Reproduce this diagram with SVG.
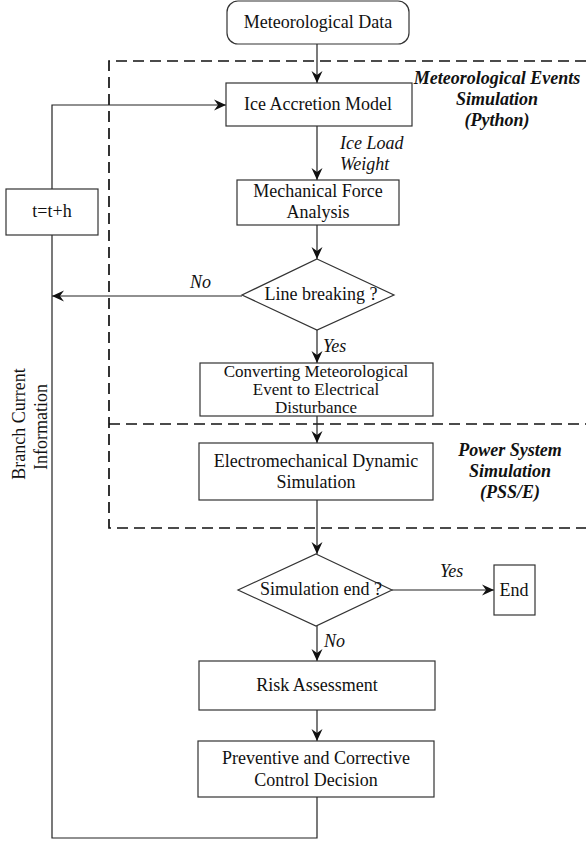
<svg xmlns="http://www.w3.org/2000/svg" width="586" height="841" viewBox="0 0 586 841" font-family="Liberation Serif, Times New Roman, DejaVu Serif, serif">
<style>
text{font-size:18px;fill:#111;}
.c{text-anchor:middle;}
.i{font-style:italic;}
.bi{font-style:italic;font-weight:bold;text-anchor:middle;}
.sm{font-size:17px;}
.box{fill:#fff;stroke:#333;stroke-width:1.2;}
.ln{fill:none;stroke:#222;stroke-width:1.2;}
.dash{fill:none;stroke:#111;stroke-width:1.7;stroke-dasharray:11 6;}
</style>
<defs>
<marker id="ah" markerWidth="14" markerHeight="12" viewBox="-13 -6 14 12" refX="0" refY="0" orient="auto" markerUnits="userSpaceOnUse">
<path d="M-12,-5.5 L0,0 L-12,5.5 L-8,0 Z" fill="#111"/>
</marker>
</defs>
<g id="regions">
<path class="dash" d="M586,61 H109 V528 H586"/>
<path class="dash" d="M109,424 H586"/>
<text class="bi" x="497" y="84">Meteorological Events</text>
<text class="bi" x="497" y="105">Simulation</text>
<text class="bi" x="497" y="126">(Python)</text>
<text class="bi" x="510" y="456">Power System</text>
<text class="bi" x="510" y="477">Simulation</text>
<text class="bi" x="510" y="498">(PSS/E)</text>
</g>
<g id="connectors">
<line class="ln" x1="317" y1="44" x2="317" y2="83" marker-end="url(#ah)"/>
<line class="ln" x1="317" y1="126" x2="317" y2="180" marker-end="url(#ah)"/>
<line class="ln" x1="317" y1="225" x2="317" y2="259" marker-end="url(#ah)"/>
<line class="ln" x1="317" y1="330" x2="317" y2="363" marker-end="url(#ah)"/>
<line class="ln" x1="317" y1="416" x2="317" y2="443" marker-end="url(#ah)"/>
<line class="ln" x1="317" y1="500" x2="317" y2="554" marker-end="url(#ah)"/>
<line class="ln" x1="317" y1="626" x2="317" y2="661" marker-end="url(#ah)"/>
<line class="ln" x1="317" y1="710" x2="317" y2="741" marker-end="url(#ah)"/>
<line class="ln" x1="392" y1="590" x2="494" y2="590" marker-end="url(#ah)"/>
<line class="ln" x1="242" y1="296" x2="52" y2="296" marker-end="url(#ah)"/>
<path class="ln" d="M317,797 V838 H52 V105 H226" marker-end="url(#ah)"/>
<text class="i" x="340" y="149">Ice Load</text>
<text class="i" x="340" y="170">Weight</text>
<text class="i" x="190" y="288">No</text>
<text class="i" x="323" y="352">Yes</text>
<text class="i" x="440" y="577">Yes</text>
<text class="i" x="324" y="647">No</text>
<g transform="translate(25,424) rotate(-90)"><text class="c" x="0" y="0">Branch Current</text></g>
<g transform="translate(47,427) rotate(-90)"><text class="c" x="0" y="0">Information</text></g>
</g>
<g id="met-data">
<rect class="box" x="227" y="1" width="182" height="43" rx="11"/>
<text class="c" x="318" y="28">Meteorological Data</text>
</g>
<g id="ice-accretion">
<rect class="box" x="226" y="83" width="186" height="43"/>
<text class="c" x="318" y="110">Ice Accretion Model</text>
</g>
<g id="mech-force">
<rect class="box" x="237" y="180" width="162" height="45"/>
<text class="c" x="318" y="197">Mechanical Force</text>
<text class="c" x="318" y="218">Analysis</text>
</g>
<g id="line-breaking">
<polygon class="box" points="317,259 394,295 317,330 242,295"/>
<text class="c" x="321" y="300">Line breaking ?</text>
</g>
<g id="converting">
<rect class="box" x="200" y="363" width="233" height="53"/>
<text class="c sm" x="316" y="377">Converting Meteorological</text>
<text class="c sm" x="316" y="395">Event to Electrical</text>
<text class="c sm" x="316" y="413">Disturbance</text>
</g>
<g id="electromech">
<rect class="box" x="199" y="443" width="234" height="57"/>
<text class="c" x="316" y="467">Electromechanical Dynamic</text>
<text class="c" x="316" y="488">Simulation</text>
</g>
<g id="sim-end">
<polygon class="box" points="316,554 392,590 316,626 238,590"/>
<text class="c" x="321" y="595">Simulation end ?</text>
</g>
<g id="end">
<rect class="box" x="494" y="565" width="41" height="50"/>
<text class="c" x="514" y="596">End</text>
</g>
<g id="risk">
<rect class="box" x="199" y="661" width="236" height="49"/>
<text class="c" x="317" y="691">Risk Assessment</text>
</g>
<g id="preventive">
<rect class="box" x="198" y="741" width="236" height="56"/>
<text class="c" x="316" y="764">Preventive and Corrective</text>
<text class="c" x="316" y="786">Control Decision</text>
</g>
<g id="time-step">
<rect class="box" x="6" y="189" width="92" height="46"/>
<text class="c" x="52" y="217">t=t+h</text>
</g>
</svg>
